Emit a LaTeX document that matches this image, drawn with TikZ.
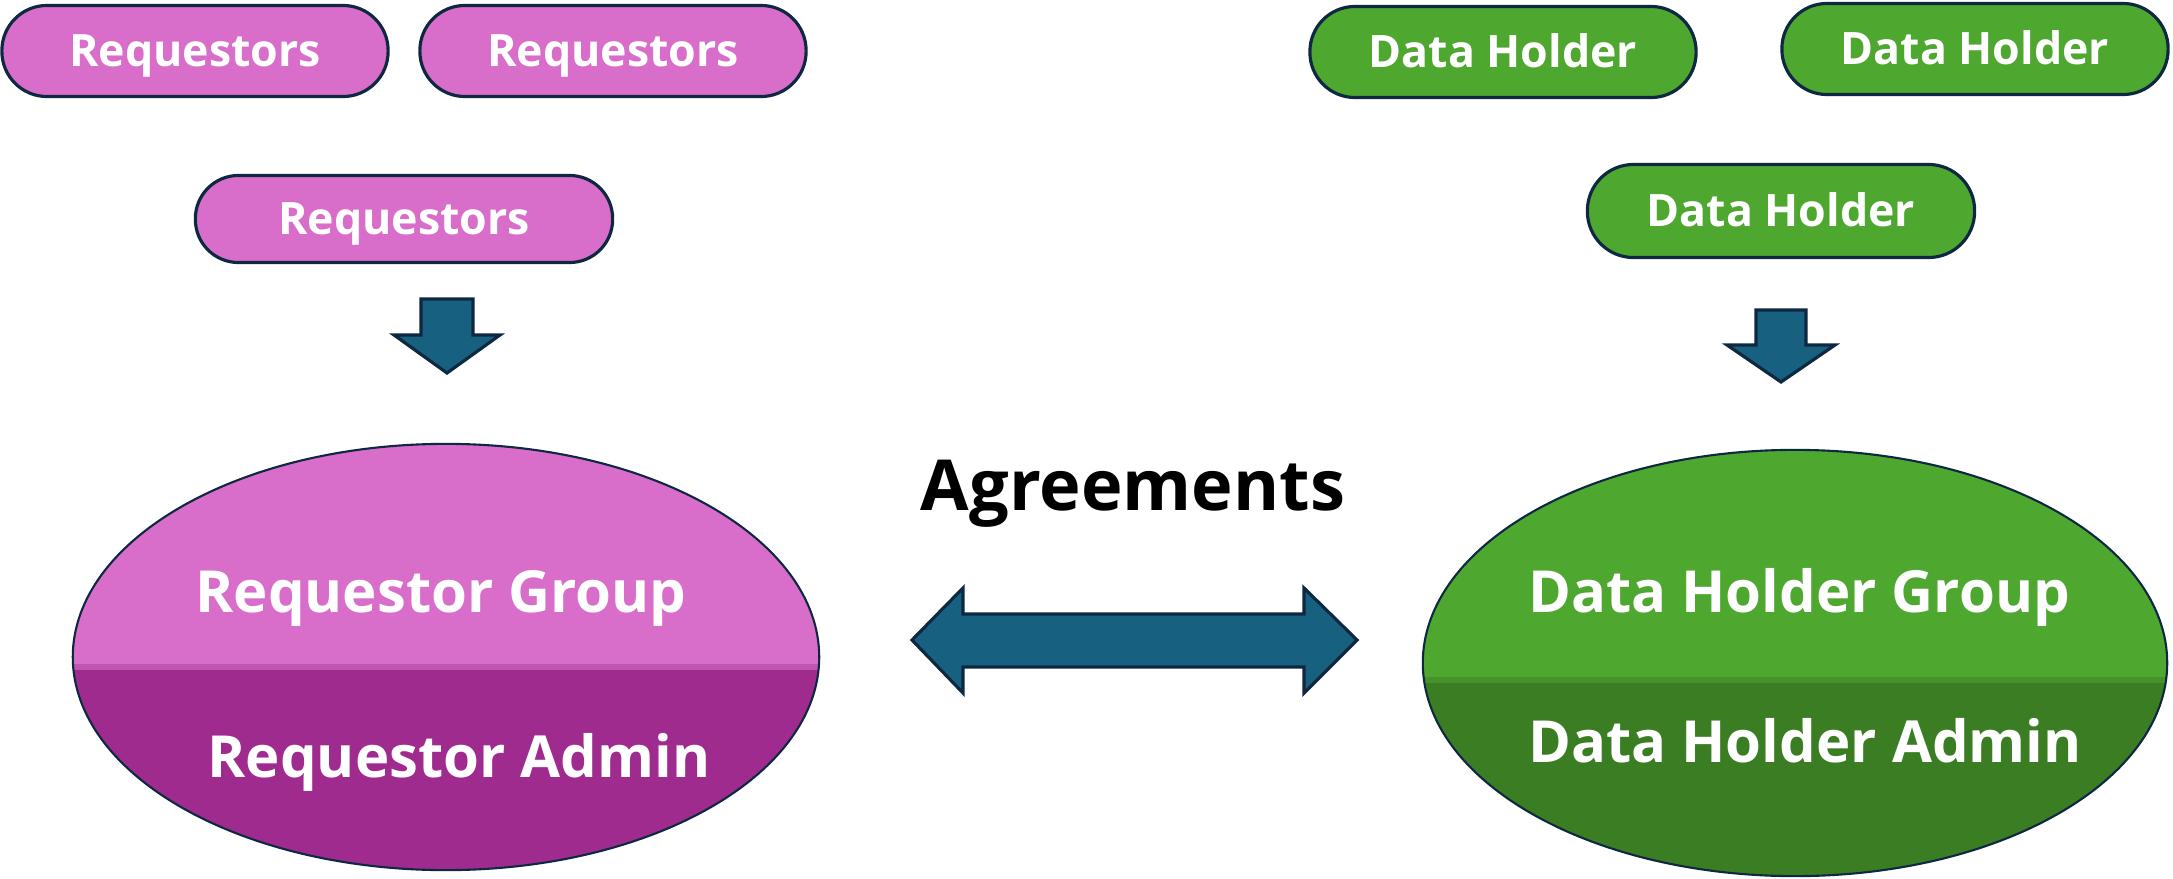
\documentclass[tikz,border=0pt]{standalone}
\usepackage{fontspec}
\setsansfont{Open Sans}
\usetikzlibrary{positioning,shapes.geometric}

\definecolor{reqlight}{RGB}{216,110,202}
\definecolor{reqmid}{RGB}{192,86,178}
\definecolor{reqdark}{RGB}{160,43,143}
\definecolor{holdlight}{RGB}{78,167,46}
\definecolor{holdmid}{RGB}{68,148,41}
\definecolor{holddark}{RGB}{59,125,35}
\definecolor{arrowblue}{RGB}{23,96,128}
\definecolor{outline}{RGB}{14,40,65}

\begin{document}
\begin{tikzpicture}[x=0.01cm, y=-0.01cm, font=\sffamily\bfseries,
	pill/.style={draw=outline, line width=0.9pt, rounded corners=0.45cm, minimum width=3.86cm, minimum height=0.91cm,
		text=white, font=\sffamily\bfseries\fontsize{12.7}{15}\selectfont, text height=9pt, text depth=0pt},
	reqpill/.style={pill, fill=reqlight},
	holdpill/.style={pill, fill=holdlight},
	oval/.style={ellipse, draw=outline, line width=0.6pt, inner sep=0pt, minimum height=4.26cm},
	ovaltext/.style={text=white, anchor=base, font=\sffamily\bfseries\fontsize{16.5}{19}\selectfont},
	blockarrow/.style={fill=arrowblue, draw=outline, line width=0.9pt, line join=miter}]

	%% draw help lines
	% \draw[step=100, help lines] (0,0) grid (2173,879);
	\useasboundingbox (0,0) rectangle (2173,879);

	%% requestor side
	\node[reqpill] (req1) at (195,51) {Requestors};
	\node[reqpill] (req2) at (613,51) {Requestors};
	\node[reqpill, minimum width=4.17cm, minimum height=0.87cm, rounded corners=0.43cm] (req3) at (404,219) {Requestors};

	\coordinate (reqdown) at (447,299);
	\filldraw[blockarrow] (reqdown) ++(-26,0) -- ++(52,0) -- ++(0,36) -- ++(27,0) -- ++(-53,38) -- ++(-53,-38) -- ++(27,0) -- cycle;

	\node[oval, fill=reqlight, minimum width=7.46cm,
		path picture={
			\fill[reqmid] ([yshift=-0.07cm]path picture bounding box.west) rectangle (path picture bounding box.south east);
			\fill[reqdark] ([yshift=-0.13cm]path picture bounding box.west) rectangle (path picture bounding box.south east);
		}] (reqoval) at (446,657) {};
	\node[ovaltext] (reqgroup) at (441,612) {Requestor Group};
	\node[ovaltext] (reqadmin) at (459,777) {Requestor Admin};

	%% data holder side
	\node[holdpill] (hold1) at (1503,52) {Data Holder};
	\node[holdpill] (hold2) at (1975,49) {Data Holder};
	\node[holdpill, minimum width=3.87cm, minimum height=0.93cm, rounded corners=0.46cm] (hold3) at (1781,211) {Data Holder};

	\coordinate (holddown) at (1781,310);
	\filldraw[blockarrow] (holddown) ++(-25,0) -- ++(50,0) -- ++(0,35) -- ++(29,0) -- ++(-54,37) -- ++(-54,-37) -- ++(29,0) -- cycle;

	\node[oval, fill=holdlight, minimum width=7.44cm,
		path picture={
			\fill[holdmid] ([yshift=-0.14cm]path picture bounding box.west) rectangle (path picture bounding box.south east);
			\fill[holddark] ([yshift=-0.20cm]path picture bounding box.west) rectangle (path picture bounding box.south east);
		}] (holdoval) at (1795,663) {};
	\node[ovaltext] (holdgroup) at (1799,612) {Data Holder Group};
	\node[ovaltext] (holdadmin) at (1805,762) {Data Holder Admin};

	%% agreements in the middle
	\node[anchor=base, font=\sffamily\bfseries\fontsize{20}{24}\selectfont] (agree) at (1133,510) {Agreements};
	\coordinate (agreearrow) at (1134,640);
	\filldraw[blockarrow] (agreearrow) ++(-222,0) -- ++(51,-52) -- ++(0,26) -- ++(341,0) -- ++(0,-26) -- ++(53,52)
		-- ++(-53,53) -- ++(0,-26) -- ++(-341,0) -- ++(0,26) -- cycle;

\end{tikzpicture}
\end{document}
